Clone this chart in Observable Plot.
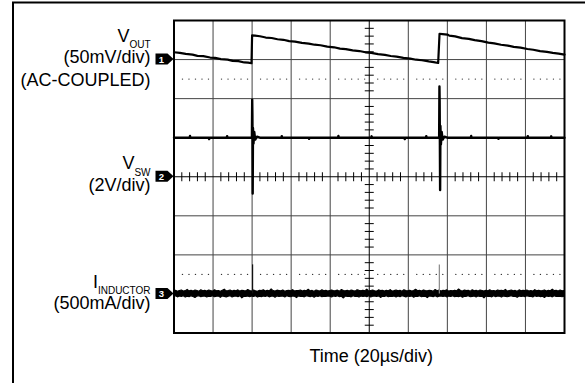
<!DOCTYPE html>
<html>
<head>
<meta charset="utf-8">
<script src="https://cdn.jsdelivr.net/npm/d3@7"></script>
<script src="https://cdn.jsdelivr.net/npm/@observablehq/plot@0.6"></script>
<style>
  html, body { margin: 0; padding: 0; background: #fff; }
  #chart svg { display: block; }
</style>
</head>
<body>
<div id="chart"></div>
<script>
// Scope settings
const timePerDiv = 20;          // µs per horizontal division
const divsX = 10, divsY = 8;
const ch1Scale = 50;            // mV/div (VOUT, AC-coupled)
const ch2Scale = 2;             // V/div  (VSW)
const ch3Scale = 500;           // mA/div (IINDUCTOR)
const ch1Ref = 3, ch2Ref = 0, ch3Ref = -3;   // channel ground markers, in divisions

// Channel labels
const channelNums = ["1", "2", "3"];
const titleText = "LIGHT-LOAD OPERATION";
const xTitle = "Time (20µs/div)";

// VOUT ripple: [time µs, mV]
const voutSamples = [
  [0, 9.4], [3, 8.6], [6, 7.2], [9.5, 6.4], [12, 4.8], [15, 4.3], [18.5, 2.6], [21, 2.2],
  [24, 0.6], [27.5, -0.1], [30, -1.6], [33, -2.0], [36, -3.7], [38, -3.9], [39.7, -4.7],
  [40.0, 31.0], [41.5, 30.6], [44, 29.8], [47, 28.2], [50, 27.6], [53, 26.0], [56, 25.3],
  [59, 23.6], [62, 23.0], [65.5, 21.4], [69, 20.4], [72, 19.0], [75, 18.3], [78.5, 16.6],
  [82, 15.7], [85, 14.0], [88, 13.4], [91.5, 11.8], [95, 10.9], [98, 9.3], [101, 8.6],
  [104.5, 7.0], [108, 5.9], [111, 4.6], [114, 3.8], [117.5, 2.1], [121, 1.3], [124, -0.2],
  [127, -0.9], [130.5, -2.4], [133, -3.2], [135.3, -4.4],
  [136.0, 33.0], [137.5, 32.6], [140, 32.0], [141, 30.6], [144, 29.6], [147.5, 27.5],
  [151, 26.4], [154, 24.8], [157.5, 23.6], [161, 21.6], [164, 20.8], [167.5, 19.0],
  [171, 17.9], [174, 16.2], [177.5, 15.3], [181, 13.5], [184, 12.6], [187.5, 10.9],
  [191, 9.8], [194, 8.5], [197, 7.6], [200, 6.3]
];

// Switch node: [time µs, V]
const vswSamples = [
  [0, 2.0], [8, 2.0], [8.2, 2.09], [8.4, 2.0], [17.8, 2.0], [18, 1.93], [18.2, 2.0],
  [27, 2.0], [27.2, 2.08], [27.4, 2.0], [39.9, 2.0], [40.05, 3.95], [40.15, 3.2], [40.2, 2.3],
  [40.3, -0.86], [40.45, 2.5], [40.7, 1.7], [41.1, 2.3], [41.6, 1.9], [42.5, 2.05], [44, 2.0],
  [55, 2.0], [55.2, 2.08], [55.4, 2.0], [69, 2.0], [69.2, 1.94], [69.4, 2.0], [84, 2.0],
  [84.2, 2.09], [84.4, 2.0], [101, 2.0], [101.2, 2.07], [101.4, 2.0], [118, 2.0],
  [118.2, 1.93], [118.4, 2.0], [129, 2.0], [129.2, 2.08], [129.4, 2.0],
  [135.8, 2.0], [135.95, 4.62], [136.05, 3.9], [136.15, 2.2], [136.3, -0.68],
  [136.45, 2.6], [136.7, 1.65], [137.1, 2.3], [137.6, 1.9], [138.5, 2.05], [140, 2.0],
  [152, 2.0], [152.2, 2.09], [152.4, 2.0], [166, 2.0], [166.2, 1.94], [166.4, 2.0],
  [181, 2.0], [181.2, 2.08], [181.4, 2.0], [193, 2.0], [193.2, 2.07], [193.4, 2.0], [200, 2.0]
];

// Inductor current noise envelope (mA), one pair per µs
const iHigh = [
  34, 41, 29, 38, 45, 31, 36, 52, 33, 40, 30, 44, 37, 29, 48, 35, 39, 31, 43, 36,
  30, 47, 34, 38, 29, 42, 55, 33, 37, 44, 31, 39, 35, 46, 30, 41, 36, 33, 50, 38,
  32, 43, 35, 29, 40, 37, 47, 31, 39, 34, 58, 36, 30, 42, 38, 33, 45, 29, 37, 41,
  34, 49, 31, 38, 36, 44, 30, 40, 35, 53, 33, 39, 29, 43, 37, 32, 46, 35, 41, 30,
  38, 45, 33, 36, 42, 29, 51, 37, 34, 40, 31, 44, 36, 30, 48, 39, 33, 42, 35, 56,
  31, 38, 43, 34, 30, 46, 37, 41, 32, 39, 35, 49, 30, 36, 44, 33, 40, 29, 47, 38,
  34, 42, 31, 37, 54, 35, 40, 30, 45, 36, 33, 41, 38, 29, 50, 34, 43, 32, 39, 36,
  46, 30, 38, 35, 42, 33, 57, 37, 31, 44, 36, 40, 29, 47, 34, 39, 32, 43, 37, 30,
  41, 35, 48, 33, 38, 31, 45, 36, 40, 34, 52, 30, 37, 43, 35, 39, 29, 46, 33, 41,
  36, 44, 32, 38, 30, 49, 35, 42, 33, 37, 45, 31, 40, 34, 55, 36, 39, 30, 43, 35,
  38
];
const iLow = [
  -36, -30, -44, -33, -39, -29, -47, -35, -41, -31, -38, -52, -34, -30, -43, -37, -32, -45, -35, -40,
  -29, -42, -36, -33, -50, -31, -38, -44, -35, -30, -46, -37, -33, -41, -29, -56, -36, -39, -32, -43,
  -34, -38, -30, -47, -35, -41, -32, -39, -29, -44, -36, -33, -49, -31, -40, -37, -34, -45, -30, -38,
  -42, -33, -36, -53, -31, -39, -35, -44, -30, -37, -41, -34, -48, -32, -38, -29, -43, -36, -40, -33,
  -35, -46, -31, -38, -30, -42, -37, -58, -33, -39, -35, -44, -29, -40, -36, -47, -32, -38, -34, -41,
  -30, -45, -37, -33, -40, -31, -51, -36, -39, -29, -43, -35, -38, -32, -46, -34, -41, -30, -37, -44,
  -33, -39, -31, -48, -36, -40, -29, -42, -35, -38, -54, -32, -37, -41, -30, -44, -36, -33, -39, -31,
  -45, -34, -38, -30, -43, -36, -41, -32, -49, -35, -37, -29, -42, -38, -33, -46, -31, -40, -35, -57,
  -32, -39, -36, -44, -30, -41, -34, -37, -47, -31, -38, -43, -35, -29, -40, -36, -50, -33, -39, -34,
  -42, -31, -37, -35, -45, -30, -39, -33, -41, -36, -52, -32, -38, -34, -44, -29, -40, -37, -35, -43,
  -36
];
// Current spikes at the switching events: [time µs, mA]
const iSpikes = [[40.25, 372], [135.9, 372]];

// ---- derived rows (positions in divisions) ----
const tMax = timePerDiv * divsX;
const vout = voutSamples.map(([t, mv]) => ({t, d: ch1Ref + mv / ch1Scale}));
const vsw = vswSamples.map(([t, v]) => ({t, d: ch2Ref + v / ch2Scale}));
const iStep = tMax / (iHigh.length - 1);
const iBand = iHigh.map((hi, i) => ({t: i * iStep, hi: ch3Ref + hi / ch3Scale, lo: ch3Ref + iLow[i] / ch3Scale}));
const spikes = iSpikes.map(([t, ma], i) => ({t, y1: ch3Ref, y2: ch3Ref + ma / ch3Scale, k: i}));

// graticule helpers
const majorX = d3.range(1, divsX).map(k => k * timePerDiv).filter(v => v !== tMax / 2);
const majorY = d3.range(-divsY / 2 + 1, divsY / 2).filter(v => v !== 0);
const minorY = d3.range(-divsY / 2 * 5, divsY / 2 * 5 + 1).filter(k => k % 5 !== 0).map(k => k / 5);
const minorX = d3.range(0, divsX * 5 + 1).filter(k => k % 5 !== 0).map(k => k * timePerDiv / 5);
const dotRows = [];
for (const y of [2.5, -2.5]) {
  for (let k = 0; k < divsX; k++) {
    for (let j = 1; j <= 5; j++) dotRows.push({t: timePerDiv * (k + j / 6 + 0.05), y});
  }
}

// short tick symbols for the centre cross-hair
const hTick = {draw(ctx, size) { const r = Math.sqrt(size / Math.PI); ctx.moveTo(-r, 0); ctx.lineTo(r, 0); }};
const vTick = {draw(ctx, size) { const r = Math.sqrt(size / Math.PI); ctx.moveTo(0, -r); ctx.lineTo(0, r); }};

const W = 585, H = 383;
const plot = Plot.plot({
  width: W,
  height: H,
  marginLeft: 173.5,
  marginRight: 21,
  marginTop: 20,
  marginBottom: 50.5,
  x: {domain: [0, tMax], axis: null},
  y: {domain: [-divsY / 2, divsY / 2], axis: null},
  style: {background: "white", overflow: "visible"},
  marks: [
    Plot.ruleX(majorX, {stroke: "#444", strokeWidth: 1}),
    Plot.ruleY(majorY, {stroke: "#444", strokeWidth: 1}),
    Plot.ruleX([tMax / 2], {stroke: "black", strokeWidth: 1}),
    Plot.ruleY([0], {stroke: "black", strokeWidth: 1}),
    Plot.dot(minorY, {x: () => tMax / 2, y: d => d, symbol: hTick, r: 4.5, stroke: "black", fill: "none", strokeWidth: 1}),
    Plot.dot(minorX, {x: d => d, y: () => 0, symbol: vTick, r: 4.5, stroke: "black", fill: "none", strokeWidth: 1}),
    Plot.dot(dotRows, {x: "t", y: "y", r: 0.7, fill: "#333", stroke: "none"}),
    // traces
    Plot.areaY(iBand, {x: "t", y1: "lo", y2: "hi", fill: "black", stroke: "black", strokeWidth: 1.1}),
    Plot.ruleX(spikes, {x: "t", y1: "y1", y2: "y2", stroke: d => d.k ? "#888" : "#111", strokeWidth: 1.2}),
    Plot.line(vsw, {x: "t", y: "d", stroke: "black", strokeWidth: 2.4}),
    Plot.line(vout, {x: "t", y: "d", stroke: "black", strokeWidth: 2.2}),
    Plot.frame({stroke: "black", strokeWidth: 2})
  ]
});

document.getElementById("chart").appendChild(plot);

// ---- annotations: channel labels, ground markers, outer frame ----
const svg = d3.select(plot);
const xs = plot.scale("x"), ys = plot.scale("y");
const L = xs.apply(0);
const font = "'Liberation Sans', Arial, Helvetica, sans-serif";
const labelX = L - 23;

function addLine(y, main, sub) {
  const t = svg.append("text")
    .attr("x", labelX).attr("y", y)
    .attr("text-anchor", "end")
    .attr("font-family", font).attr("font-size", 18).attr("fill", "black");
  t.append("tspan").text(main);
  if (sub) t.append("tspan").attr("font-size", 10).attr("dy", 6.3).text(sub);
}

const r1 = ys.apply(ch1Ref), r2 = ys.apply(ch2Ref), r3 = ys.apply(ch3Ref);
addLine(r1 - 17.5, "V", "OUT");
addLine(r1 + 4.3, "(50mV/div)");
addLine(r1 + 26.8, "(AC-COUPLED)");
addLine(r2 - 6.8, "V", "SW");
addLine(r2 + 14.3, "(2V/div)");
addLine(r3 - 5.8, "I", "INDUCTOR");
addLine(r3 + 16, "(500mA/div)");

// ground reference markers
[r1, r2, r3].forEach((y, i) => {
  svg.append("path")
    .attr("d", `M${L - 18},${y - 5.5}H${L - 6}L${L},${y}L${L - 6},${y + 5.5}H${L - 18}Z`)
    .attr("fill", "black");
  svg.append("text")
    .attr("x", L - 12).attr("y", y + 3.6)
    .attr("text-anchor", "middle")
    .attr("font-family", font).attr("font-size", 9.5).attr("font-weight", "bold")
    .attr("fill", "white").text(channelNums[i]);
});

// time base caption
svg.append("text")
  .attr("x", xs.apply(tMax / 2) + 2.5).attr("y", ys.apply(-divsY / 2) + 29)
  .attr("text-anchor", "middle")
  .attr("font-family", font).attr("font-size", 18).attr("fill", "black")
  .text(xTitle);

// outer panel border and heading (heading sits above the panel edge)
svg.append("text")
  .attr("x", 216).attr("y", -0.5)
  .attr("font-family", font).attr("font-size", 18).attr("font-weight", "bold")
  .attr("textLength", 214).attr("fill", "black")
  .text(titleText);
svg.append("path")
  .attr("d", `M13,${H}V2.5H${W}`)
  .attr("fill", "none").attr("stroke", "black").attr("stroke-width", 2);
</script>
</body>
</html>
